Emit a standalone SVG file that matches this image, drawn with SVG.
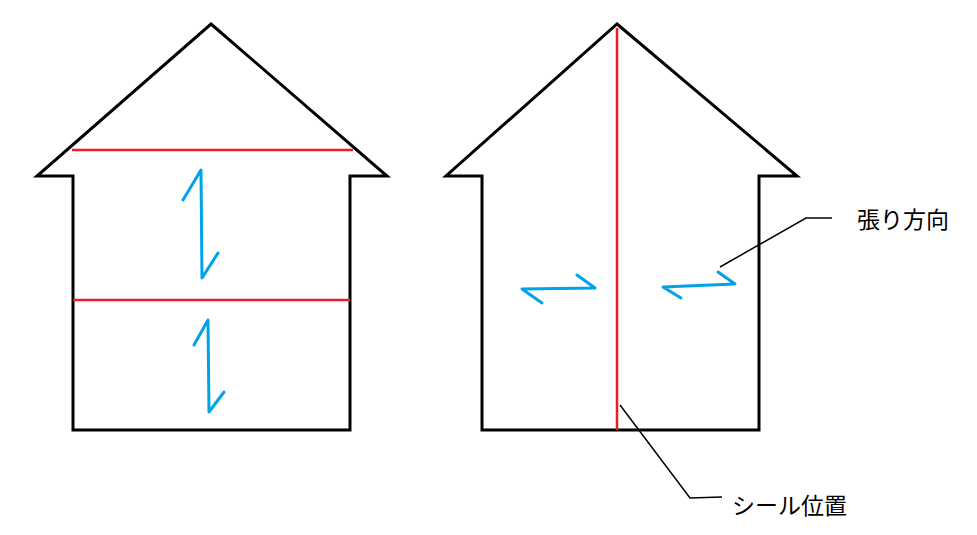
<svg xmlns="http://www.w3.org/2000/svg" width="977" height="535" viewBox="0 0 977 535">
<style>
.house{fill:none;stroke:#000;stroke-width:3;stroke-linejoin:miter}
.seal{stroke:#ED1C24;stroke-width:2.5;fill:none}
.dir{fill:none;stroke:#00A2E8;stroke-width:3;stroke-linejoin:round;stroke-linecap:round}
.lead{fill:none;stroke:#000;stroke-width:1.5}
.lbl{font-family:"Noto Sans CJK JP","Noto Sans",sans-serif;font-size:23px;fill:#000}
</style>
<rect width="977" height="535" fill="#fff"/>
<g id="house-left">
<polygon class="house" points="211,24 387,176 350,176 350,430 73,430 73,176 37,176"/>
<line class="seal" x1="72" y1="150" x2="353" y2="150"/>
<line class="seal" x1="73" y1="300" x2="350" y2="300"/>
<polyline class="dir" points="183,200 201,170 202,278 218,253"/>
<polyline class="dir" points="194,345 208,320 209,412 224,392"/>
</g>
<g id="house-right">
<polygon class="house" points="617,24 797,176 759,176 759,430 482,430 482,176 446,176"/>
<line class="seal" x1="617" y1="28" x2="617" y2="430"/>
<polyline class="dir" points="577,275 595,288 522,289 542,303"/>
<polyline class="dir" points="718,272 735,284 663,287 681,298"/>
</g>
<g id="connectors">
<polyline class="lead" points="720,267 806,218 832,218"/>
<polyline class="lead" points="620,405 690,498 722,497"/>
</g>
<g id="label-direction"><text class="lbl" x="857" y="228">張り方向</text></g>
<g id="label-seal"><text class="lbl" x="732" y="514">シール位置</text></g>
</svg>
